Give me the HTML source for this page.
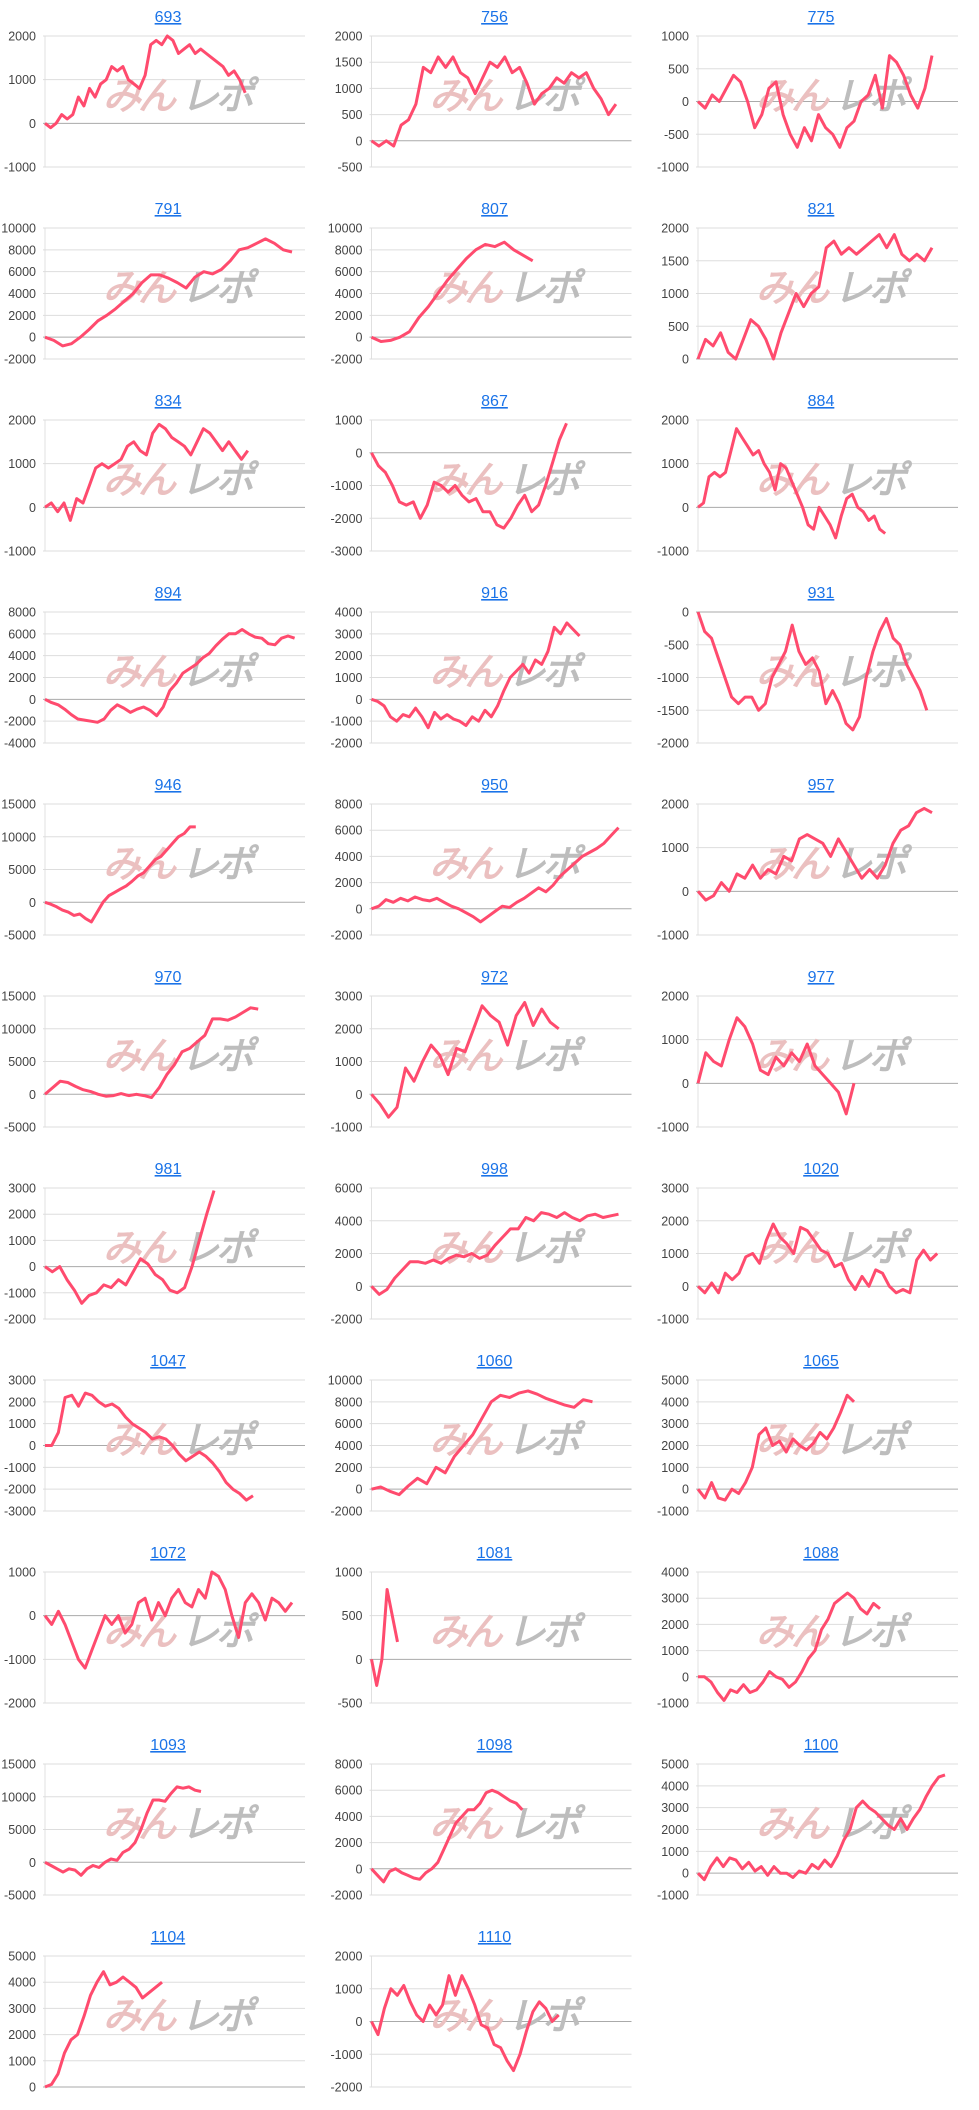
<!DOCTYPE html>
<html><head><meta charset="utf-8"><style>
html,body{margin:0;padding:0;background:#fff;width:979px;height:2110px;overflow:hidden}
svg text{font-family:"Liberation Sans",Arial,sans-serif}
</style></head><body>
<svg id="s" width="979" height="2110" xmlns="http://www.w3.org/2000/svg"></svg>
<script>
const C=[
["693",[2000,-1000,1000],0.77,[0,-100,0,200,100,200,600,400,800,600,900,1000,1300,1200,1300,1000,900,800,1100,1800,1900,1800,2000,1900,1600,1700,1800,1600,1700,1600,1500,1400,1300,1100,1200,1000,700]],
["756",[2000,-500,500],0.94,[0,-100,0,-100,300,400,700,1400,1300,1600,1400,1600,1300,1200,900,1200,1500,1400,1600,1300,1400,1100,700,900,1000,1200,1100,1300,1200,1300,1000,800,500,700]],
["775",[1000,-1000,500],0.9,[0,-100,100,0,200,400,300,0,-400,-200,200,300,-200,-500,-700,-400,-600,-200,-400,-500,-700,-400,-300,0,100,400,-100,700,600,400,100,-100,200,700]],
["791",[10000,-2000,2000],0.95,[0,-300,-800,-600,0,700,1500,2000,2600,3300,4000,5000,5700,5700,5400,5000,4500,5500,6000,5800,6200,7000,8000,8200,8600,9000,8600,8000,7800]],
["807",[10000,-2000,2000],0.62,[0,-400,-300,0,500,1800,2800,4000,5200,6200,7200,8000,8500,8300,8700,8000,7500,7000]],
["821",[2000,0,500],0.9,[0,300,200,400,100,0,300,600,500,300,0,400,700,1000,800,1000,1100,1700,1800,1600,1700,1600,1700,1800,1900,1700,1900,1600,1500,1600,1500,1700]],
["834",[2000,-1000,1000],0.78,[0,100,-100,100,-300,200,100,500,900,1000,900,1000,1100,1400,1500,1300,1200,1700,1900,1800,1600,1500,1400,1200,1500,1800,1700,1500,1300,1500,1300,1100,1300]],
["867",[1000,-3000,1000],0.75,[0,-400,-600,-1000,-1500,-1600,-1500,-2000,-1600,-900,-1000,-1200,-1000,-1300,-1500,-1400,-1800,-1800,-2200,-2300,-2000,-1600,-1300,-1800,-1600,-1000,-300,400,900]],
["884",[2000,-1000,1000],0.72,[0,100,700,800,700,800,1300,1800,1600,1400,1200,1300,1000,800,400,1000,900,600,300,0,-400,-500,0,-200,-400,-700,-200,200,300,0,-100,-300,-200,-500,-600]],
["894",[8000,-4000,2000],0.96,[0,-300,-500,-900,-1400,-1800,-1900,-2000,-2100,-1800,-1000,-500,-800,-1200,-900,-700,-1000,-1500,-700,800,1500,2400,2800,3200,3800,4200,4900,5500,6000,6000,6400,6000,5700,5600,5100,5000,5600,5800,5600]],
["916",[4000,-2000,1000],0.8,[0,-100,-300,-800,-1000,-700,-800,-400,-800,-1300,-600,-900,-700,-900,-1000,-1200,-800,-1000,-500,-800,-300,400,1000,1300,1600,1200,1800,1600,2200,3300,3000,3500,3200,2900]],
["931",[0,-2000,500],0.88,[0,-300,-400,-700,-1000,-1300,-1400,-1300,-1300,-1500,-1400,-1000,-800,-600,-200,-600,-800,-700,-900,-1400,-1200,-1400,-1700,-1800,-1600,-1000,-600,-300,-100,-400,-500,-800,-1000,-1200,-1500]],
["946",[15000,-5000,5000],0.58,[0,-300,-700,-1200,-1500,-2000,-1800,-2500,-3000,-1500,0,1000,1500,2000,2500,3200,4000,4500,5500,6500,7000,8000,9000,10000,10500,11500,11500]],
["950",[8000,-2000,2000],0.95,[0,200,700,500,800,600,900,700,600,800,500,200,0,-300,-600,-1000,-600,-200,200,100,500,800,1200,1600,1300,1800,2500,3000,3500,4000,4300,4600,5000,5600,6200]],
["957",[2000,-1000,1000],0.9,[0,-200,-100,200,0,400,300,600,300,500,400,800,700,1200,1300,1200,1100,800,1200,900,600,300,500,300,600,1100,1400,1500,1800,1900,1800]],
["970",[15000,-5000,5000],0.82,[0,1000,2000,1800,1200,700,400,0,-300,-200,100,-200,0,-200,-500,1000,3000,4500,6500,7000,8000,9000,11500,11500,11300,11800,12500,13200,13000]],
["972",[3000,-1000,1000],0.72,[0,-300,-700,-400,800,400,1000,1500,1200,600,1400,1300,2000,2700,2400,2200,1500,2400,2800,2100,2600,2200,2000]],
["977",[2000,-1000,1000],0.6,[0,700,500,400,1000,1500,1300,900,300,200,600,400,700,500,900,400,200,0,-200,-700,0]],
["981",[3000,-2000,1000],0.65,[0,-200,0,-500,-900,-1400,-1100,-1000,-700,-800,-500,-700,-200,300,100,-300,-500,-900,-1000,-800,0,1000,2000,2900]],
["998",[6000,-2000,2000],0.95,[0,-500,-200,500,1000,1500,1500,1400,1600,1400,1700,1900,1800,2000,1700,1900,2500,3000,3500,3500,4200,4000,4500,4400,4200,4500,4200,4000,4300,4400,4200,4300,4400]],
["1020",[3000,-1000,1000],0.92,[0,-200,100,-200,400,200,400,900,1000,700,1400,1900,1500,1300,1000,1800,1700,1400,1100,1000,600,700,200,-100,300,0,500,400,0,-200,-100,-200,800,1100,800,1000]],
["1047",[3000,-3000,1000],0.8,[0,0,600,2200,2300,1800,2400,2300,2000,1800,1900,1700,1300,1000,800,600,300,400,300,0,-400,-700,-500,-300,-500,-800,-1200,-1700,-2000,-2200,-2500,-2300]],
["1060",[10000,-2000,2000],0.85,[0,200,-200,-500,300,1000,500,2000,1500,3000,4000,5000,6500,8000,8600,8400,8800,9000,8700,8300,8000,7700,7500,8200,8000]],
["1065",[5000,-1000,1000],0.6,[0,-400,300,-400,-500,0,-200,300,1000,2500,2800,2000,2200,1700,2300,2000,1800,2100,2600,2300,2800,3500,4300,4000]],
["1072",[1000,-2000,1000],0.95,[0,-200,100,-200,-600,-1000,-1200,-800,-400,0,-200,0,-400,-200,300,400,-100,300,0,400,600,300,200,600,400,1000,900,600,0,-500,300,500,300,-100,400,300,100,300]],
["1081",[1000,-500,500],0.1,[0,-300,0,800,500,200]],
["1088",[4000,-1000,1000],0.7,[0,0,-200,-600,-900,-500,-600,-300,-600,-500,-200,200,0,-100,-400,-200,200,700,1000,1800,2200,2800,3000,3200,3000,2600,2400,2800,2600]],
["1093",[15000,-5000,5000],0.6,[0,-500,-1000,-1500,-1000,-1200,-2000,-1000,-500,-800,0,500,300,1500,2000,3000,5000,7500,9500,9500,9300,10500,11500,11300,11500,11000,10800]],
["1098",[8000,-2000,2000],0.58,[0,-500,-1000,-200,0,-300,-500,-700,-800,-300,0,500,1500,2500,3500,4000,4500,4500,5000,5800,6000,5800,5500,5200,5000,4500]],
["1100",[5000,-1000,1000],0.95,[0,-300,300,700,300,700,600,200,500,100,300,-100,300,0,0,-200,100,0,400,200,600,300,800,1500,2000,3000,3300,3000,2800,2500,2200,2000,2500,2000,2500,2900,3500,4000,4400,4500]],
["1104",[5000,0,1000],0.45,[0,100,500,1300,1800,2000,2700,3500,4000,4400,3900,4000,4200,4000,3800,3400,3600,3800,4000]],
["1110",[2000,-2000,1000],0.72,[0,-400,400,1000,800,1100,600,200,0,500,200,500,1400,800,1400,1000,500,-100,-200,-700,-800,-1200,-1500,-1000,-300,300,600,400,0,200]]
];
let h='';
C.forEach((c,i)=>{
 const ox=(i%3)*326.5, oy=Math.floor(i/3)*192;
 const [mx,mn,st]=c[1]; const top=oy+36,bot=oy+167,L=ox+45,R=ox+305;
 const Y=v=>top+(mx-v)/(mx-mn)*(bot-top);
 h+=`<text x="${ox+168}" y="${oy+22}" font-size="16" fill="#1a73e8" text-anchor="middle" text-decoration="underline">${c[0]}</text>`;
 h+=`<line x1="${L}" y1="${top}" x2="${L}" y2="${bot}" stroke="#e0e0e0"/>`;
 for(let v=mx;v>=mn;v-=st){const y=Y(v);
  h+=`<line x1="${L-2}" y1="${y}" x2="${R}" y2="${y}" stroke="${v==0?'#aaa':'#ddd'}" stroke-width="1"/>`;
  h+=`<text x="${ox+36}" y="${y+4.5}" font-size="12.5" fill="#444" text-anchor="end">${v}</text>`;}
 h+=`<g transform="translate(${ox+103},${oy+109}) skewX(-14)"><text font-size="38" font-weight="900" fill="#ebc0c0" font-family="Noto Sans CJK JP,sans-serif" letter-spacing="-3">みん</text><text x="78" font-size="38" font-weight="900" fill="#bdbdbd" font-family="Noto Sans CJK JP,sans-serif" letter-spacing="-3">レポ</text></g>`;
 const d=c[3],n=d.length,w=(R-L)*c[2];
 h+=`<polyline fill="none" stroke="#ff4b6e" stroke-width="3" stroke-linejoin="round" points="${d.map((v,k)=>(L+k/(n-1)*w).toFixed(1)+','+Y(v).toFixed(1)).join(' ')}"/>`;
});
document.getElementById('s').innerHTML=h;
</script>
</body></html>
